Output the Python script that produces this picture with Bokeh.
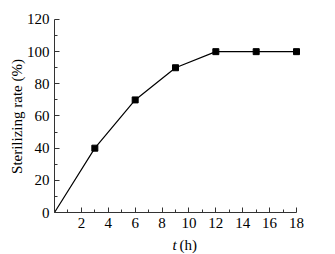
import math
from bokeh.plotting import figure
from bokeh.models import FixedTicker, Range1d, Label
from bokeh.embed import file_html
from bokeh.resources import INLINE

t_line = [0, 3, 6, 9, 12, 15, 18]
rate_line = [0, 40, 70, 90, 100, 100, 100]
t_marks = [3, 6, 9, 12, 15, 18]
rate_marks = [40, 70, 90, 100, 100, 100]
x_ticks = [2, 4, 6, 8, 10, 12, 14, 16, 18]
x_minor = [1, 3, 5, 7, 9, 11, 13, 15, 17]
y_ticks = [0, 20, 40, 60, 80, 100, 120]
y_minor = [10, 30, 50, 70, 90, 110]

FONT = "Liberation Serif"

# frame spans the whole canvas; axes are pinned at 0 and bounded to the data area
p = figure(width=335, height=254, output_backend="svg", toolbar_location=None,
           x_range=Range1d(-4.017, 20.9), y_range=Range1d(-26.1, 131.8),
           min_border_left=0, min_border_right=0, min_border_top=0, min_border_bottom=0)
p.outline_line_color = None
p.xgrid.visible = False
p.ygrid.visible = False

p.line(t_line, rate_line, line_color="black", line_width=1.2)
p.scatter(t_marks, rate_marks, marker="square", size=6, color="black")

for ax in (p.xaxis[0], p.yaxis[0]):
    ax.major_tick_in = 5
    ax.major_tick_out = 0
    ax.minor_tick_in = 3
    ax.minor_tick_out = 0
    ax.axis_line_color = "#333333"
    ax.major_tick_line_color = "#333333"
    ax.minor_tick_line_color = "#333333"
    ax.major_label_text_font = FONT
    ax.major_label_text_font_size = "15px"
    ax.major_label_text_color = "black"
    ax.major_label_standoff = 5

p.xaxis[0].ticker = FixedTicker(ticks=x_ticks, minor_ticks=x_minor)
p.xaxis[0].fixed_location = 0
p.xaxis[0].bounds = (0, 18)
p.yaxis[0].ticker = FixedTicker(ticks=y_ticks, minor_ticks=y_minor)
p.yaxis[0].fixed_location = 0
p.yaxis[0].bounds = (0, 120)

p.add_layout(Label(x=-2.8, y=59.7, text="Sterilizing rate (%)", angle=math.pi / 2,
                   text_font=FONT, text_font_size="15px", text_color="black",
                   text_align="center", text_baseline="middle"))
p.add_layout(Label(x=8.78, y=-19.9, text="t",
                   text_font=FONT, text_font_size="15px", text_font_style="italic",
                   text_color="black", text_align="left", text_baseline="alphabetic"))
p.add_layout(Label(x=9.3, y=-19.9, text="(h)",
                   text_font=FONT, text_font_size="15px", text_color="black",
                   text_align="left", text_baseline="alphabetic"))

open("out.html", "w").write(file_html(p, INLINE))
